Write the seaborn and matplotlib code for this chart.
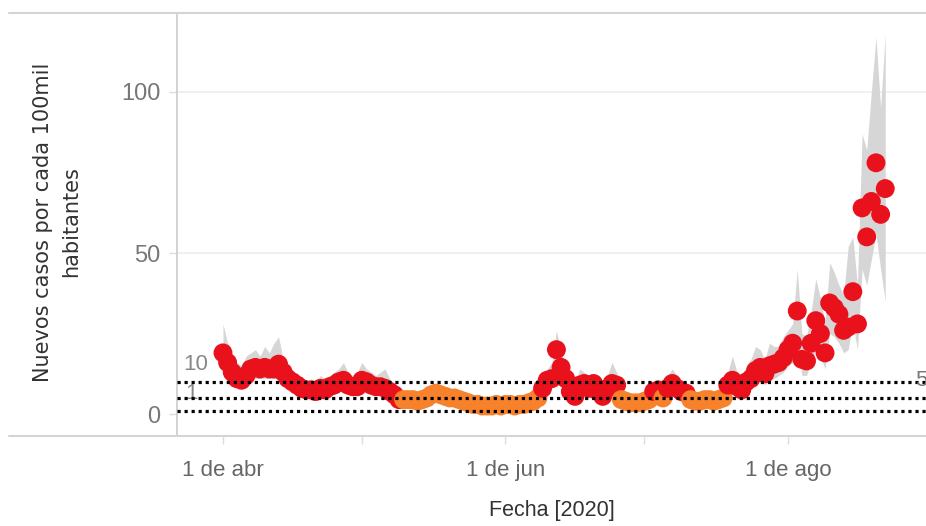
import numpy as np
import pandas as pd
import matplotlib
matplotlib.use("Agg")
import matplotlib.pyplot as plt
import matplotlib.dates as mdates
import matplotlib.transforms as mtransforms
from matplotlib.lines import Line2D
from matplotlib import font_manager
import seaborn as sns

# ---------------- data ----------------
start_date = "2020-04-01"

casos = [
    19, 16, 13, 11, 10.5, 12, 14, 14.5, 14, 14.5,
    14, 14, 15.5, 13, 11, 10, 9, 8, 7.5, 7.5,
    7, 8, 7.5, 8.5, 9, 10, 10.5, 9, 8.5, 8.5,
    10.5, 10, 9, 8.5, 8.5, 8, 7, 6, 4.5, 4.5,
    4.5, 4.5, 4, 4.5, 5, 6, 6.5, 6, 5.5, 5,
    5, 4.5, 4, 3.5, 3, 3, 2.5, 2.5, 2.5, 3,
    2.5, 3, 3, 2.5, 3, 3, 3.5, 4, 5, 8,
    10.5, 11, 20, 14.5, 11, 7, 5.5, 9, 9.5, 8,
    9.5, 7, 5.5, 8, 9.5, 9, 4.5, 4, 3.5, 3.5,
    3.5, 4, 4.5, 7, 7.5, 5, 8, 9.5, 8, 7,
    6.5, 4.5, 4, 4, 4.5, 4.5, 4, 4.5, 5, 9,
    10.5, 8.5, 7.5, 10, 11, 13.5, 14.5, 12.5, 15, 15.5,
    16, 17.5, 20, 22, 32, 17, 16.5, 22, 29, 25,
    19, 34.5, 33, 31, 26, 27, 38, 28, 64, 55,
    66, 78, 62, 70,
]

banda_max = [
    28, 22, 18, 16, 15, 18, 19, 20, 18, 21,
    19, 22, 24, 17, 15, 13, 12, 11, 10, 11,
    10, 12, 11, 12, 13, 14, 16, 13, 12, 13,
    16, 14, 13, 12, 13, 14, 11, 9, 7, 6.5,
    6.5, 6.5, 6, 6.5, 7, 8, 9, 8, 7.5, 7,
    7, 6.5, 6, 5.5, 4.5, 4.5, 4, 4, 4, 4.5,
    4, 4.5, 4.5, 4, 4.5, 4.5, 5, 6, 7.5, 12,
    14, 16, 26, 19, 15, 10, 9, 14, 13, 11,
    12, 10, 9, 12, 16, 13, 7, 6, 5.5, 5.5,
    5.5, 6, 7, 10, 11, 8, 12, 14, 12, 10,
    9, 7, 6, 6, 6.5, 7, 6, 7, 8, 13,
    18, 13, 12, 15, 17, 21, 20, 17, 22, 21,
    21, 24, 26, 28, 45, 25, 24, 32, 42, 36,
    28, 47, 44, 40, 37, 52, 55, 40, 87, 82,
    100, 117, 95, 118,
]

banda_min = [
    14, 12, 10, 8, 8, 9, 11, 11, 11, 11,
    11, 11, 12, 10, 8, 7, 6, 5.5, 5, 5,
    5, 5.5, 5, 6, 6.5, 7, 7.5, 6.5, 6, 6,
    7.5, 7, 6.5, 6, 6, 5.5, 5, 4, 3, 3,
    3, 3, 2.5, 3, 3.5, 4, 4.5, 4, 4, 3.5,
    3.5, 3, 2.5, 2, 2, 2, 1.5, 1.5, 1.5, 2,
    1.5, 2, 2, 1.5, 2, 2, 2.5, 3, 3.5, 5,
    7, 8, 14, 10, 8, 5, 4, 6, 7, 6,
    7, 5, 4, 6, 7, 6.5, 3, 3, 2.5, 2.5,
    2.5, 3, 3, 5, 5.5, 3.5, 6, 7, 6, 5,
    4.5, 3, 3, 3, 3, 3, 3, 3, 3.5, 6,
    7, 6, 5, 7, 8, 10, 11, 9, 11, 11,
    12, 13, 15, 16, 22, 12, 12, 16, 20, 18,
    14, 25, 24, 22, 19, 20, 28, 20, 45, 40,
    48, 56, 45, 35,
]

nivel = (["alto"] * 39 + ["medio"] * 30 + ["alto"] * 17 + ["medio"] * 7 +
         ["alto"] * 2 + ["medio"] * 1 + ["alto"] * 5 + ["medio"] * 8 +
         ["alto"] * 35)

umbrales = [10, 5, 1]
y_ticks = [0, 50, 100]
x_tick_dates = ["2020-04-01", "2020-06-01", "2020-08-01"]
x_tick_labels = ["1 de abr", "1 de jun", "1 de ago"]
x_minor_dates = ["2020-05-01", "2020-07-01"]

fechas = pd.date_range(start_date, periods=len(casos), freq="D")
df = pd.DataFrame({"fecha": fechas, "casos": casos,
                   "lo": banda_min, "hi": banda_max, "nivel": nivel})

# ---------------- style ----------------
sns.set_theme(style="white")
avail = {f.name for f in font_manager.fontManager.ttflist}
main_font = "Liberation Sans" if "Liberation Sans" in avail else "DejaVu Sans"
plt.rcParams["font.family"] = [main_font, "DejaVu Sans"]

RED = "#E9121C"
ORANGE = "#F8822C"
BAND = "#D6D6D6"

fig = plt.figure(figsize=(9.26, 5.26), dpi=100)
ax = fig.add_axes([177 / 926, 1 - 436 / 526, 749 / 926, 423 / 526])

for v in [50, 100]:
    ax.axhline(v, color="#eeeeee", lw=1.2, zorder=0)

ax.fill_between(df["fecha"], df["lo"], df["hi"], color=BAND, lw=0, zorder=1)

sns.scatterplot(data=df, x="fecha", y="casos", hue="nivel",
                palette={"alto": RED, "medio": ORANGE}, s=185,
                linewidth=0, legend=False, ax=ax, zorder=3)

for u in umbrales:
    ax.axhline(u, color="black", lw=2.3, ls=(0, (1, 1.2)),
               dash_capstyle="butt", zorder=4)

# limits
t0 = pd.Timestamp(start_date)
ax.set_xlim(t0 - pd.Timedelta(days=9.93), t0 + pd.Timedelta(days=151.8))
ax.set_ylim(-6.8, 124.5)

# ticks
ax.set_xticks(pd.to_datetime(x_tick_dates))
ax.set_xticklabels(x_tick_labels)
ax.set_xticks(pd.to_datetime(x_minor_dates), minor=True)
ax.tick_params(axis="x", which="both", bottom=True, length=6, width=1,
               color="#dddddd", pad=11, labelsize=16, labelcolor="#666666")
ax.set_yticks(y_ticks)
ax.tick_params(axis="y", left=True, length=6, width=1, color="#dddddd",
               pad=6, labelsize=17, labelcolor="#777777")

ax.set_xlabel("Fecha [2020]", fontsize=15.5, color="#333333", labelpad=14)
ax.set_ylabel("")

for side in ["top", "right", "bottom"]:
    ax.spines[side].set_visible(False)
ax.spines["left"].set_color("#cccccc")
ax.spines["left"].set_linewidth(1.2)

# frame lines across figure width
for yy in [1 - 13 / 526, 1 - 436 / 526]:
    fig.add_artist(Line2D([9 / 926, 1.0], [yy, yy], color="#d4d4d4", lw=1.5,
                          transform=fig.transFigure))

# threshold labels
trans = mtransforms.blended_transform_factory(ax.transAxes, ax.transData)
ax.text(0.008, 15.3, "10", transform=trans, ha="left", va="center",
        fontsize=16, color="#888888", zorder=5)
ax.text(0.011, 6.3, "1", transform=trans, ha="left", va="center",
        fontsize=16, color="#888888", zorder=2)
ax.text(0.985, 10.3, "5", transform=trans, ha="left", va="center",
        fontsize=16, color="#777777", zorder=5, clip_on=False)

fig.text(57 / 926, 1 - 222 / 526, "Nuevos casos por cada 100mil\nhabitantes",
         rotation=90, ha="center", va="center", multialignment="center",
         fontsize=15, color="#333333", linespacing=1.5,
         family=["DejaVu Sans"])

fig.savefig("out.png", dpi=100)
